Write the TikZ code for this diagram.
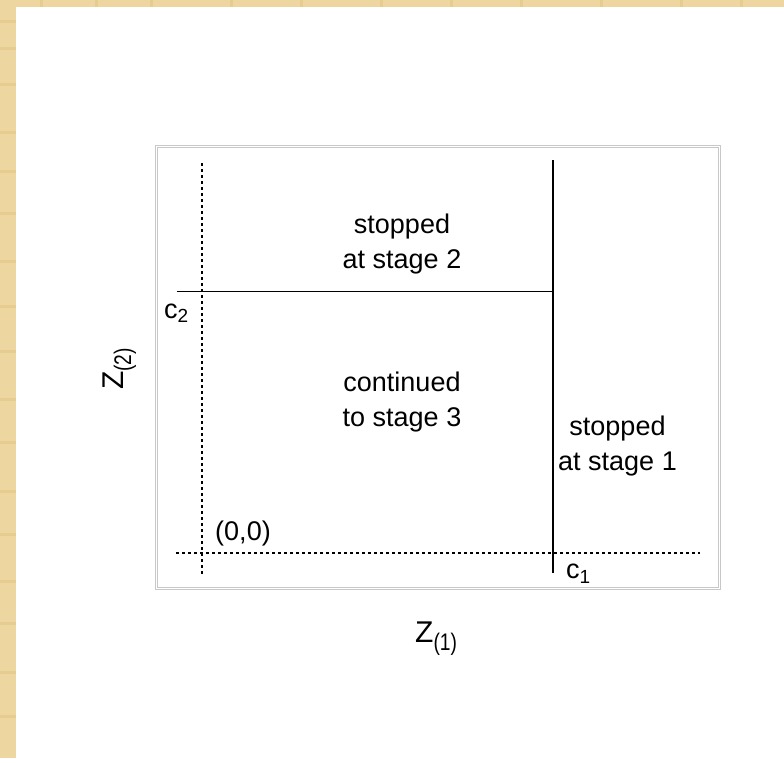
\documentclass[tikz,border=0pt]{standalone}
\usepackage{fontspec}
\setmainfont{Liberation Sans}
\definecolor{parch}{RGB}{238,214,160}
\definecolor{parchd}{RGB}{226,196,130}
\definecolor{framec}{RGB}{200,200,200}
\newcommand{\subsc}[2]{\raisebox{#1}{\fontsize{#2}{#2}\selectfont}}
\begin{document}
\begin{tikzpicture}[x=1pt,y=-1pt,
  lbl/.style={font=\fontsize{27}{35}\selectfont, align=center, inner sep=0pt},
  ax/.style={font=\fontsize{30}{30}\selectfont, inner sep=0pt},
  dotl/.style={line width=1.1pt, dash pattern=on 2.5pt off 3.5pt},
  solidl/.style={line width=1.4pt}]
\useasboundingbox (0,0) rectangle (784,758);
\fill[white] (0,0) rectangle (784,758);
\fill[parch] (0,0) rectangle (16,758);
\fill[parch] (0,0) rectangle (784,7);
\foreach \yy in {20,47,83,131,170,212,260,305,350,398,441,490,533,580,622,671,715}
  \fill[parchd,opacity=0.5] (0,\yy) rectangle (16,\yy+3);
\foreach \xx in {40,95,150,230,300,380,450,520,600,680,740}
  \fill[parchd,opacity=0.5] (\xx,0) rectangle (\xx+3,7);
% frame
\draw[framec, line width=0.8pt] (155.5,145.5) rectangle (720,589);
\draw[framec, line width=0.6pt] (157.5,147.5) rectangle (718,587);
% coordinates
\coordinate (vdT) at (202,163);
\coordinate (vdB) at (202,575);
\coordinate (hdL) at (176,553);
\coordinate (hdR) at (700,553);
\coordinate (hsL) at (177,291.5);
\coordinate (hsR) at (553,291.5);
\coordinate (vsT) at (553,160);
\coordinate (vsB) at (553,573);
\draw[dotl] (vdT) -- (vdB);
\draw[dotl] (hdL) -- (hdR);
\draw[solidl] (hsL) -- (hsR);
\draw[solidl] (vsT) -- (vsB);
% labels
\node[lbl] (s2) at (402,244) {stopped\\at stage 2};
\node[lbl] (c3) at (402,402) {continued\\to stage 3};
\node[lbl] (s1) at (617.5,446) {stopped\\at stage 1};
\node[lbl, anchor=base west] (c2) at (164,318) {c\raisebox{-4pt}{\fontsize{19}{19}\selectfont 2}};
\node[lbl] (o) at (243,534) {(0,0)};
\node[lbl, anchor=base west] (c1) at (566,578) {c\raisebox{-5pt}{\fontsize{19}{19}\selectfont 1}};
\node[ax, rotate=90, anchor=base west] (z2) at (123,390) {Z\raisebox{-8pt}{\fontsize{24}{24}\selectfont\scalebox{0.8}[1]{(2)}}};
\node[ax, anchor=base west] (z1) at (415,642) {Z\raisebox{-8pt}{\fontsize{24}{24}\selectfont\scalebox{0.8}[1]{(1)}}};
\end{tikzpicture}
\end{document}
